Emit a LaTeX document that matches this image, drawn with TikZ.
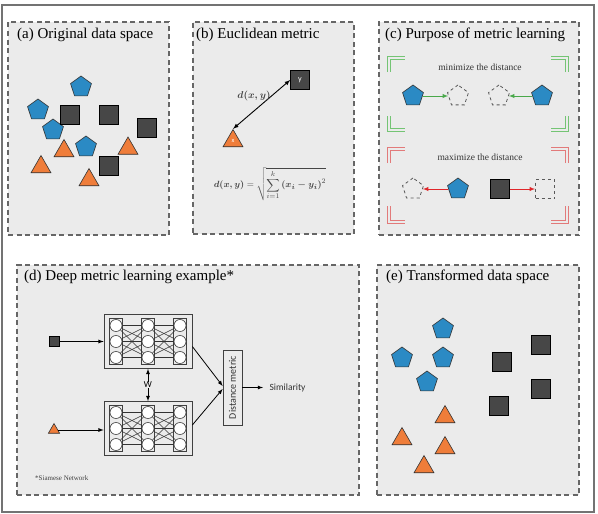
\documentclass[tikz,border=0pt]{standalone}
\usepackage{fontspec}
\setmainfont{Liberation Serif}
\newfontfamily\calfont{Carlito}
\usepackage{amsmath}
\usepackage{graphicx}
\usetikzlibrary{arrows, positioning, calc, shapes.geometric}
\definecolor{panelgray}{HTML}{EBEBEB}
\definecolor{pentblue}{HTML}{2B8AC4}
\definecolor{triorange}{HTML}{EF7D3A}
\definecolor{sqdark}{HTML}{474747}
\definecolor{brkgreen}{HTML}{74C474}
\definecolor{brkred}{HTML}{E27A7A}
\definecolor{arrgreen}{HTML}{49A84A}
\definecolor{arrred}{HTML}{E0262A}
\definecolor{mathgray}{HTML}{454545}

% one branch of the siamese network: name, centre
\newcommand{\siamnet}[2]{%
  \node[netbox] (#1) at (#2) {};
  \foreach \c/\dx in {1/-32,2/0,3/32}{
    \node[colbox] (#1-c\c) at ($(#1)+(\dx,0)$) {};
    \foreach \r/\dy in {1/-16,2/0,3/16}
      \node[neuron] (#1-\c-\r) at ($(#1)+(\dx,\dy)$) {};
  }
  \foreach \a/\b in {1/2,2/3}
    \foreach \i in {1,2,3}
      \foreach \j in {1,2,3}
        \draw[black!80, line width=0.55pt] (#1-\a-\i) -- (#1-\b-\j);
}

\begin{document}
\begin{tikzpicture}[x=1pt,y=-1pt,>=latex,
    panel/.style={draw=black!60, dash pattern=on 5pt off 3.5pt, line width=1.1pt, fill=panelgray, inner sep=0pt},
    title/.style={anchor=west, inner sep=0pt, font=\fontsize{15}{18}\selectfont},
    sq/.style={rectangle, draw=black, fill=sqdark, minimum size=19pt, inner sep=0pt, line width=0.6pt},
    pent/.style={regular polygon, regular polygon sides=5, draw=black!80, fill=pentblue, minimum size=22pt, inner sep=0pt, line width=0.6pt},
    tri/.style={regular polygon, regular polygon sides=3, draw=black!80, fill=triorange, minimum size=23pt, inner sep=0pt, line width=0.6pt},
    ghostpent/.style={regular polygon, regular polygon sides=5, draw=black!65, dashed, minimum size=22pt, inner sep=0pt, line width=0.8pt},
    ghostsq/.style={rectangle, draw=black!65, dashed, minimum size=19pt, inner sep=0pt, line width=0.8pt},
    gbrk/.style={draw=brkgreen, double=panelgray, double distance=1.6pt, line width=0.8pt},
    rbrk/.style={draw=brkred, double=panelgray, double distance=1.6pt, line width=0.8pt},
    hint/.style={font=\fontsize{9.5}{11}\selectfont, text=black!80},
    netbox/.style={draw=black!75, minimum width=88pt, minimum height=54pt, inner sep=0pt, line width=0.7pt},
    colbox/.style={draw=black!75, minimum width=13pt, minimum height=46pt, inner sep=0pt, line width=0.6pt},
    neuron/.style={circle, draw=black!75, fill=white, minimum size=12pt, inner sep=0pt, line width=0.6pt}]
  \useasboundingbox (0,0) rectangle (598,514);
  \draw[black!55, line width=1.3pt] (2,5) rectangle (594,512);

  % panels
  \node[panel, minimum width=161pt, minimum height=213pt] (pa) at (88.5,128.5) {};
  \node[panel, minimum width=161pt, minimum height=212pt] (pb) at (273.5,128) {};
  \node[panel, minimum width=200pt, minimum height=213pt] (pc) at (479,128.5) {};
  \node[panel, minimum width=342pt, minimum height=230pt] (pd) at (188,380) {};
  \node[panel, minimum width=202pt, minimum height=230pt] (pe) at (478,380) {};
  \node[title] (ta) at (17,35) {(a) Original data space};
  \node[title] (tb) at (196,35) {(b) Euclidean metric};
  \node[title] (tc) at (385,35) {(c) Purpose of metric learning};
  \node[title] (td) at (24,277) {(d) Deep metric learning example*};
  \node[title] (te) at (386,277) {(e) Transformed data space};

  % (a)
  \node[pent] (a-p1) at (81,87) {};
  \node[pent] (a-p2) at (38,110) {};
  \node[pent] (a-p3) at (53,130) {};
  \node[pent] (a-p4) at (86,147) {};
  \node[sq] (a-s1) at (70,115) {};
  \node[sq] (a-s2) at (109,115) {};
  \node[sq] (a-s3) at (147,128) {};
  \node[sq] (a-s4) at (109,166) {};
  \node[tri] (a-t1) at (64,151) {};
  \node[tri] (a-t2) at (41,167) {};
  \node[tri] (a-t3) at (89,180) {};
  \node[tri] (a-t4) at (128,148.5) {};

  % (b)
  \node[sq] (b-y) at (300,80) {\calfont\fontsize{8}{9}\selectfont\color{white}y};
  \node[tri] (b-x) at (233,141) {\calfont\fontsize{6.5}{7}\selectfont\color{white}x};
  \draw[<->, line width=0.9pt] (b-x.corner 1) -- (b-y.west);
  \node[text=mathgray] (b-lbl) at (254,96) {$\boldsymbol{d(x,y)}$};
  \node[text=mathgray, font=\fontsize{9.5}{11}\selectfont] (b-eq) at (270,184)
    {$\displaystyle\boldsymbol{d(x,y)}=\sqrt{\sum_{i=1}^{k}\boldsymbol{(x_i-y_i)}^2}$};

  % (c)
  \draw[gbrk] (389,72) |- (405,58);
  \draw[gbrk] (567,72) |- (551,58);
  \draw[gbrk] (389,116) |- (405,130);
  \draw[gbrk] (567,116) |- (551,130);
  \draw[rbrk] (389,163) |- (405,149);
  \draw[rbrk] (567,163) |- (551,149);
  \draw[rbrk] (389,206) |- (405,222);
  \draw[rbrk] (567,206) |- (551,222);
  \node[hint] (c-min) at (480,67) {minimize the distance};
  \node[hint] (c-max) at (480,157) {maximize the distance};
  \node[pent] (c-m1) at (413,96) {};
  \node[ghostpent] (c-g1) at (458,96) {};
  \node[ghostpent] (c-g2) at (499,96) {};
  \node[pent] (c-m2) at (542,96) {};
  \draw[->, arrgreen, line width=0.9pt] (c-m1) -- (c-g1);
  \draw[->, arrgreen, line width=0.9pt] (c-m2) -- (c-g2);
  \node[ghostpent] (c-g3) at (413,189) {};
  \node[pent] (c-m3) at (458,189) {};
  \node[sq] (c-s1) at (500,189) {};
  \node[ghostsq] (c-g4) at (545,189) {};
  \draw[->, arrred, line width=0.9pt] (c-m3) -- (c-g3);
  \draw[->, arrred, line width=0.9pt] (c-s1) -- (c-g4);

  % (d)
  \siamnet{net1}{148,341.5}
  \siamnet{net2}{148,428.5}
  \node[sq, minimum size=10pt] (d-in1) at (54,341.5) {};
  \node[tri, minimum size=13pt] (d-in2) at (54,430) {};
  \draw[->, thick] (d-in1) -- (net1);
  \draw[->, thick] (d-in2) -- (d-in2 -| net2.west);
  \draw[<->, thick] (net1) -- node[fill=panelgray, inner sep=0.5pt, font=\calfont\fontsize{9}{10}\selectfont] {W} (net2);
  \node[draw=black!75, line width=0.7pt, minimum width=19pt, minimum height=75pt, inner sep=0pt,
    font=\calfont\fontsize{10}{12}\selectfont, text=black!80] (dist) at (232.5,387.5) {\rotatebox{90}{Distance metric}};
  \draw[->, thick] ($(net1.east)+(0,5)$) -- ($(dist.west)+(0,-1.5)$);
  \draw[->, thick] ($(net2.east)+(0,-3.5)$) -- ($(dist.west)+(0,1.5)$);
  \node[anchor=west, font=\calfont\fontsize{9.5}{11}\selectfont, text=black!80] (sim) at (266,387.5) {Similarity};
  \draw[->, thick, shorten >=3pt] (dist) -- (sim);
  \node[anchor=west, inner sep=0pt, font=\fontsize{7}{8}\selectfont, text=black!75] (d-note) at (35,478) {*Siamese Network};

  % (e)
  \node[pent] (e-p1) at (443,329) {};
  \node[pent] (e-p2) at (402,358) {};
  \node[pent] (e-p3) at (443,358) {};
  \node[pent] (e-p4) at (427,382) {};
  \node[sq] (e-s1) at (541,345) {};
  \node[sq] (e-s2) at (502,362) {};
  \node[sq] (e-s3) at (541,389) {};
  \node[sq] (e-s4) at (499,406) {};
  \node[tri] (e-t1) at (445,417) {};
  \node[tri] (e-t2) at (402,439) {};
  \node[tri] (e-t3) at (445,448) {};
  \node[tri] (e-t4) at (424,467) {};
\end{tikzpicture}
\end{document}
